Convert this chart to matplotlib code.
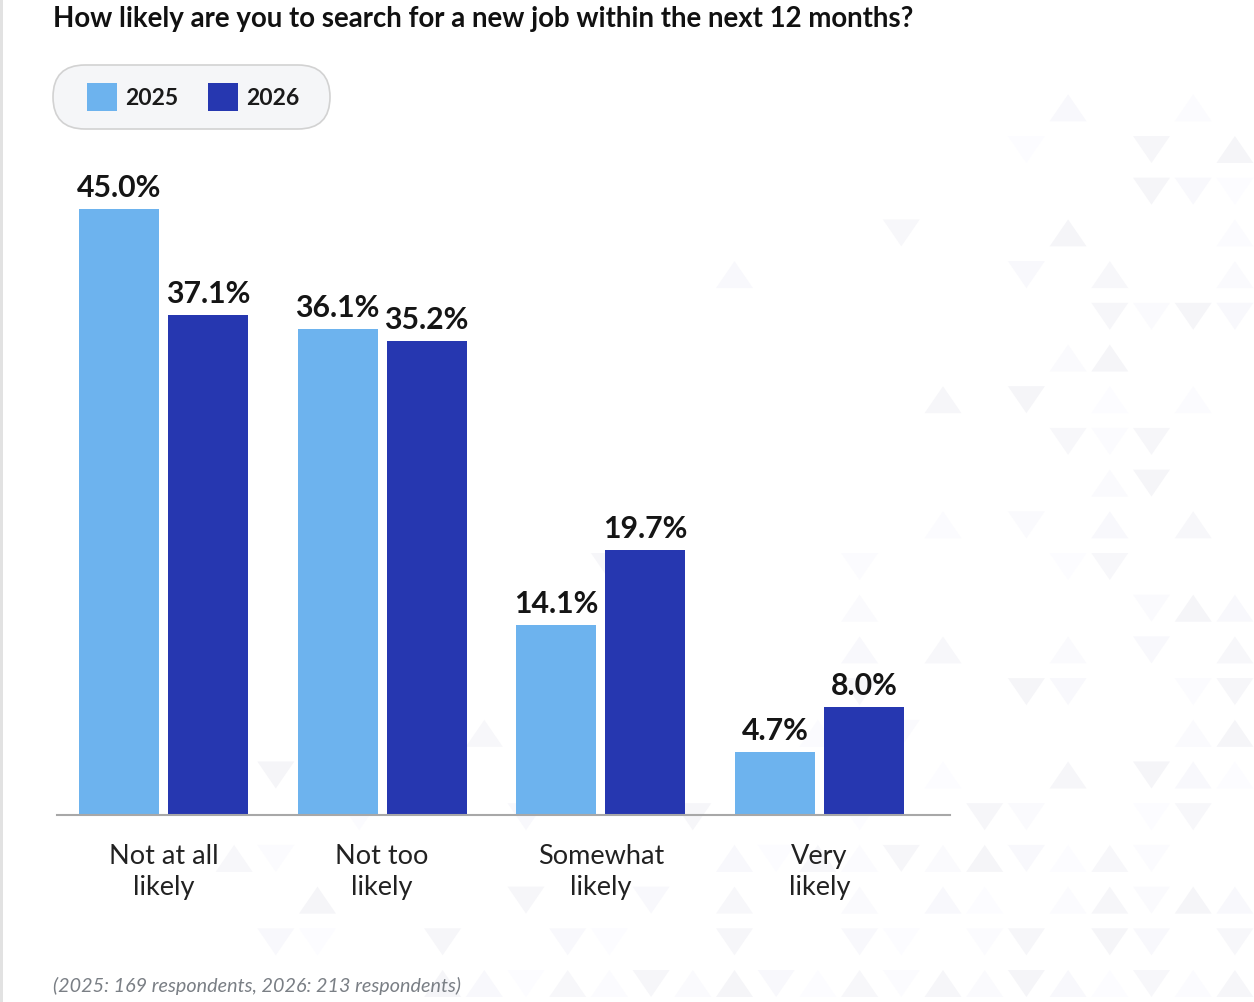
import numpy as np
import matplotlib
matplotlib.use("Agg")
import matplotlib.pyplot as plt
from matplotlib.patches import FancyBboxPatch, Polygon, Rectangle

plt.rcParams['font.family'] = ['Lato', 'DejaVu Sans']

title = "How likely are you to search for a new job within the next 12 months?"
categories = ["Not at all\nlikely", "Not too\nlikely", "Somewhat\nlikely", "Very\nlikely"]
years = ["2025", "2026"]
values_2025 = [45.0, 36.1, 14.1, 4.7]
values_2026 = [37.1, 35.2, 19.7, 8.0]
footnote = "(2025: 169 respondents, 2026: 213 respondents)"

light = "#6db3ee"
dark = "#2637b0"

W, H = 1254, 1002
fig = plt.figure(figsize=(W / 100, H / 100), dpi=100)

# pixel-space overlay for background, title, legend and footnote
bg = fig.add_axes([0, 0, 1, 1], zorder=0)
bg.set_xlim(0, W)
bg.set_ylim(H, 0)
bg.axis("off")

# faint triangle texture, denser towards the lower right
cell = 41.7
for r in range(24):
    for c in range(30):
        cx = 943 + (c - 22) * cell
        cy = 136 + (r - 3) * cell
        if cx < 200 or cx > W + 20 or cy < 40 or cy > H + 20:
            continue
        h = (r * 7919 + c * 104729 + r * c * 31) % 97 / 97.0
        weight = np.clip((cx - 850) / 300, 0, 1) * 0.8 + np.clip((cy - 500) / 450, 0, 1) * 0.6
        if h > weight * 0.6:
            continue
        up = ((r * 3 + c * 5 + r * c) % 3) != 0
        shade = 0.962 + 0.025 * (((r * 13 + c * 17) % 7) / 6)
        col = (shade, shade, min(1, shade + 0.012))
        x0, x1 = cx - 18.5, cx + 18.5
        y0, y1 = cy, cy + 27
        if up:
            pts = [(x0, y1), (x1, y1), (cx, y0)]
        else:
            pts = [(x0, y0), (x1, y0), (cx, y1)]
        bg.add_patch(Polygon(pts, closed=True, facecolor=col, edgecolor="none", zorder=0))

# thin rule on the left edge
bg.add_patch(Rectangle((0, 0), 3, H, facecolor="#e2e2e2", edgecolor="none", zorder=1))

bg.text(53, 19, title, fontsize=19.9, fontweight="bold", color="#111111",
        ha="left", va="center", zorder=3)

# legend pill
bg.add_patch(FancyBboxPatch((53, 65), 277, 64, boxstyle="round,pad=0,rounding_size=32",
                            facecolor="#f5f6f8", edgecolor="#d2d2d2", linewidth=1.2, zorder=2))
for x, yr, col in [(87, years[0], light), (208, years[1], dark)]:
    bg.add_patch(Rectangle((x, 83), 30, 28, facecolor=col, edgecolor="none", zorder=3))
    bg.text(x + 38, 98, yr, fontsize=16.5, fontweight="bold", color="#1a1a1a",
            ha="left", va="center", zorder=3)

bg.text(53, 986, footnote, fontsize=14.2, style="italic", color="#7a7f85",
        ha="left", va="center", zorder=3)

# bar chart area: baseline at y=815 px, 13.47 px per percent
ax = fig.add_axes([57 / W, 1 - 815 / H, 893 / W, 673.5 / H], zorder=1)
ax.patch.set_alpha(0)
x = np.arange(len(categories))
offset = 44.5 / 218.67
width = 80 / 218.67
b1 = ax.bar(x - offset, values_2025, width, color=light, zorder=2)
b2 = ax.bar(x + offset, values_2026, width, color=dark, zorder=2)

for bars, vals in [(b1, values_2025), (b2, values_2026)]:
    for rect, v in zip(bars, vals):
        ax.annotate(f"{v:.1f}%", (rect.get_x() + rect.get_width() / 2, v),
                    xytext=(0, 5), textcoords="offset points",
                    ha="center", va="bottom", fontsize=21.8, fontweight="bold",
                    color="#151515")

ax.set_xlim(-0.487, 3.597)
ax.set_ylim(0, 50)
ax.set_xticks(x)
ax.set_xticklabels(categories, fontsize=19.5, color="#222222", linespacing=1.3)
ax.tick_params(axis="x", length=0, pad=21)
ax.set_yticks([])
for s in ["top", "right", "left"]:
    ax.spines[s].set_visible(False)
ax.spines["bottom"].set_color("#a8a8a8")
ax.spines["bottom"].set_linewidth(1.5)

fig.savefig("out.png", dpi=100)
